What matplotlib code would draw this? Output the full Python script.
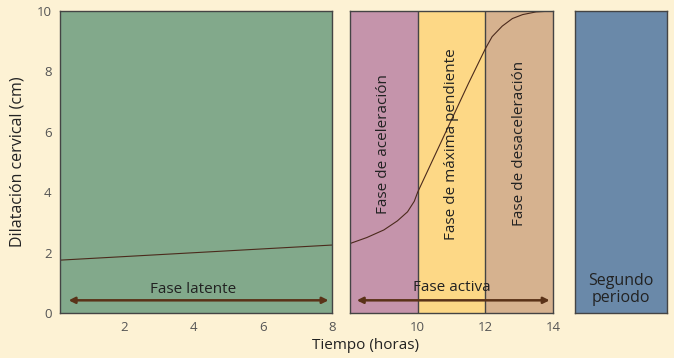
import numpy as np
import matplotlib.pyplot as plt

plt.rcParams['font.family'] = ['Open Sans', 'DejaVu Sans']

# Data
latent_t = [0.15, 8.0]
latent_d = [1.75, 2.25]

active_t = [8.0, 8.5, 9.0, 9.4, 9.7, 9.9, 10.0, 10.5, 11.0, 11.5, 12.0, 12.2, 12.5, 12.8, 13.1, 13.5, 14.0]
active_d = [2.3, 2.5, 2.75, 3.05, 3.35, 3.7, 4.0, 5.2, 6.4, 7.6, 8.75, 9.15, 9.5, 9.75, 9.88, 9.97, 10.0]

phase_edges = [8, 10, 12, 14]
phase_names = ['Fase de aceleración', 'Fase de máxima pendiente', 'Fase de desaceleración']
phase_colors = ['#C594AB', '#FDD886', '#D6B28F']

bg = '#FDF2D4'
edge = '#444444'
curve_col = '#4B2A1C'
arrow_col = '#5A3218'
tick_col = '#555555'

fig = plt.figure(figsize=(6.74, 3.58), dpi=100, facecolor=bg)

ax1 = fig.add_axes([0.089, 0.1257, 0.4036, 0.8436])
ax2 = fig.add_axes([0.5193, 0.1257, 0.3012, 0.8436])
ax3 = fig.add_axes([0.8531, 0.1257, 0.1365, 0.8436])

# Latent phase panel
ax1.set_facecolor('#82A98B')
ax1.plot(latent_t, latent_d, color=curve_col, lw=0.8)
ax1.set_xlim(0.15, 8)
ax1.set_ylim(0, 10)
ax1.set_xticks([2, 4, 6, 8])
ax1.set_yticks([0, 2, 4, 6, 8, 10])
ax1.annotate('', xy=(0.4, 0.42), xytext=(7.9, 0.42),
             arrowprops=dict(arrowstyle='<|-|>', color=arrow_col, lw=1.8, mutation_scale=9,
                             shrinkA=0, shrinkB=0))
ax1.text(4.0, 0.77, 'Fase latente', ha='center', va='center', fontsize=11, color='#222222')
ax1.set_ylabel('Dilatación cervical (cm)', fontsize=11.5, color='#222222', labelpad=8)

# Active phase panel
for i, name in enumerate(phase_names):
    ax2.axvspan(phase_edges[i], phase_edges[i + 1], color=phase_colors[i], lw=0)
    ax2.text((phase_edges[i] + phase_edges[i + 1]) / 2, 5.6, name, rotation=90,
             ha='center', va='center', fontsize=11, color='#222222')
for x in phase_edges[1:-1]:
    ax2.axvline(x, color=edge, lw=1)
ax2.plot(active_t, active_d, color=curve_col, lw=0.8)
ax2.set_xlim(8, 14)
ax2.set_ylim(0, 10)
ax2.set_xticks([10, 12, 14])
ax2.set_yticks([])
ax2.annotate('', xy=(8.2, 0.42), xytext=(13.9, 0.42),
             arrowprops=dict(arrowstyle='<|-|>', color=arrow_col, lw=1.8, mutation_scale=9,
                             shrinkA=0, shrinkB=0))
ax2.text(11.0, 0.85, 'Fase activa', ha='center', va='center', fontsize=11, color='#222222')

# Second stage panel
ax3.set_facecolor('#6A89A9')
ax3.set_xlim(0, 1)
ax3.set_ylim(0, 10)
ax3.set_xticks([])
ax3.set_yticks([])
ax3.text(0.5, 0.78, 'Segundo\nperiodo', ha='center', va='center', fontsize=11.5,
         color='#222222', linespacing=1.15)

for ax in (ax1, ax2, ax3):
    for s in ax.spines.values():
        s.set_color(edge)
        s.set_linewidth(1)
    ax.tick_params(length=0, labelsize=9.5, colors=tick_col, pad=6)

fig.text(0.543, 0.035, 'Tiempo (horas)', ha='center', va='center', fontsize=11, color='#222222')

fig.savefig('out.png', dpi=100, facecolor=bg)
